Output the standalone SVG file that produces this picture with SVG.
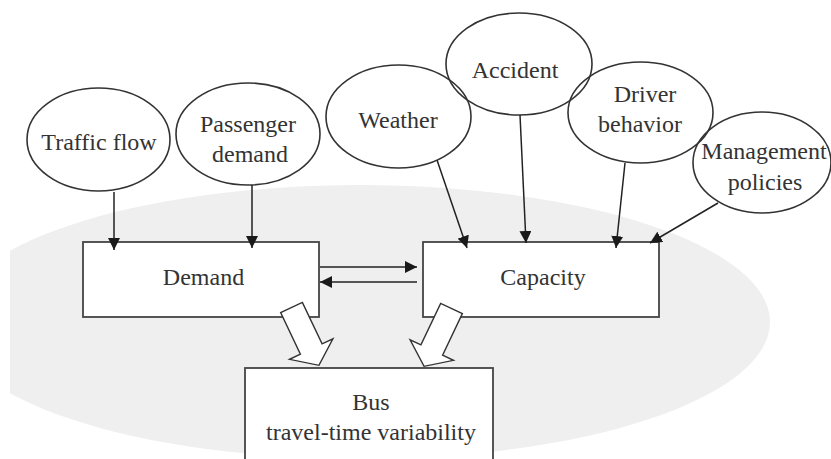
<svg xmlns="http://www.w3.org/2000/svg" width="831" height="459" viewBox="0 0 831 459">
<style>
  .n { fill: none; stroke: #333; stroke-width: 1.6; }
  .b { fill: #fff; stroke: #444; stroke-width: 1.8; }
  .t { font-family: "Liberation Serif", "Times New Roman", serif; font-size: 24px; fill: #333; text-anchor: middle; }
  .c { fill: none; stroke: #222; stroke-width: 1.5; }
  .blk { fill: #fff; stroke: #333; stroke-width: 1.4; stroke-linejoin: miter; }
</style>
<defs>
  <marker id="ah" viewBox="0 0 12 12" refX="12" refY="6" markerWidth="12" markerHeight="12" markerUnits="userSpaceOnUse" orient="auto">
    <path d="M0,0 L12,6 L0,12 Z" fill="#1a1a1a"/>
  </marker>
  <clipPath id="clip"><rect x="10" y="0" width="821" height="459"/></clipPath>
  <path id="blockArrow" d="M0,-12 L46,-12 L46,-24 L64,0 L46,24 L46,12 L0,12 Z"/>
</defs>
<rect width="831" height="459" fill="#fff"/>
<ellipse cx="360" cy="322" rx="410" ry="137" fill="#efefef" clip-path="url(#clip)"/>

<g id="traffic-flow"><ellipse class="n" cx="98.5" cy="139.5" rx="71.5" ry="51.5"/><text class="t" x="99" y="150">Traffic flow</text></g>
<g id="passenger-demand"><ellipse class="n" cx="248" cy="134" rx="72" ry="51"/><text class="t" x="248" y="132">Passenger</text><text class="t" x="250" y="162">demand</text></g>
<g id="weather"><ellipse class="n" cx="398.5" cy="116.5" rx="72.5" ry="51.5"/><text class="t" x="398" y="128">Weather</text></g>
<g id="accident"><ellipse class="n" cx="519" cy="64" rx="73" ry="51"/><text class="t" x="515" y="78">Accident</text></g>
<g id="driver-behavior"><ellipse class="n" cx="640.5" cy="112.5" rx="72.5" ry="50.5"/><text class="t" x="645" y="102">Driver</text><text class="t" x="640" y="132">behavior</text></g>
<g id="management-policies"><ellipse class="n" cx="762" cy="162.5" rx="69" ry="50.5"/><text class="t" x="764" y="159">Management</text><text class="t" x="765" y="190">policies</text></g>

<g id="demand"><rect class="b" x="83" y="242" width="236" height="75"/><text class="t" x="203.5" y="285">Demand</text></g>
<g id="capacity"><rect class="b" x="423" y="242" width="236" height="75"/><text class="t" x="543" y="285">Capacity</text></g>
<g id="bus"><rect class="b" x="245" y="368" width="248" height="100"/><text class="t" x="371" y="410">Bus</text><text class="t" x="371" y="440">travel-time variability</text></g>

<g id="connectors">
  <line class="c" x1="114" y1="192" x2="114" y2="250" marker-end="url(#ah)"/>
  <line class="c" x1="252" y1="185" x2="252" y2="248" marker-end="url(#ah)"/>
  <line class="c" x1="437" y1="160" x2="467" y2="248" marker-end="url(#ah)"/>
  <line class="c" x1="520" y1="115" x2="526" y2="243" marker-end="url(#ah)"/>
  <line class="c" x1="625" y1="163" x2="616" y2="248" marker-end="url(#ah)"/>
  <line class="c" x1="718" y1="203" x2="650" y2="243" marker-end="url(#ah)"/>
  <line class="c" x1="320" y1="267" x2="417" y2="267" marker-end="url(#ah)"/>
  <line class="c" x1="417" y1="282" x2="320" y2="282" marker-end="url(#ah)"/>
  <use href="#blockArrow" class="blk" transform="translate(291.5,307.5) rotate(64.6)"/>
  <use href="#blockArrow" class="blk" transform="translate(451.5,308.5) rotate(115.4)"/>
</g>
</svg>
